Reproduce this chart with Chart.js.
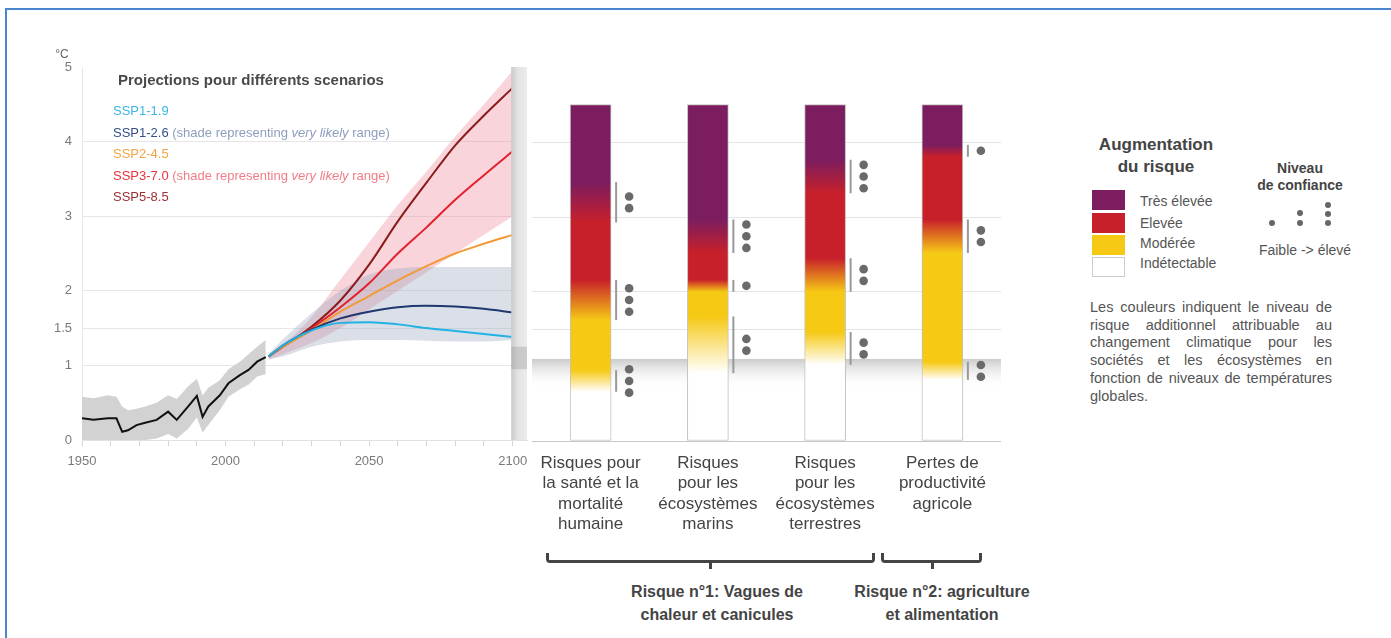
<!DOCTYPE html>
<html>
<head>
<meta charset="utf-8">
<script src="https://cdn.jsdelivr.net/npm/chart.js@4.4.1/dist/chart.umd.min.js"></script>
<style>
body { margin: 0; background: #fff; }
#page { position: relative; width: 1391px; height: 638px; overflow: hidden; font-family: "Liberation Sans", Arial, sans-serif; }
#frame { position: absolute; left: 5px; top: 8px; width: 1400px; height: 700px; border-top: 2px solid #4a86cf; border-left: 2px solid #4a86cf; }
canvas { position: absolute; }
.t { position: absolute; white-space: nowrap; }
.cx { transform: translateX(-50%); text-align: center; }
.legend { font-family: "Liberation Sans", Arial, sans-serif; font-size: 13px; line-height: 21.5px; }
.sw { position: absolute; left: 1092px; width: 33px; height: 20px; }
.dot { position: absolute; width: 6px; height: 6px; border-radius: 50%; background: #666; }
.para div { text-align: justify; text-align-last: justify; }
.brace { position: absolute; box-sizing: border-box; height: 10px; top: 553px; border: 3px solid #444; border-top: none; border-radius: 0 0 4px 4px; }
.tick { position: absolute; width: 3px; height: 7px; top: 562px; background: #444; }
</style>
</head>
<body>
<div id="page">
  <div id="frame"></div>
  <canvas id="left" width="540" height="480" style="left:0;top:0;width:540px;height:480px"></canvas>
  <canvas id="right" width="500" height="540" style="left:520px;top:0;width:500px;height:540px"></canvas>

  <div class="t cx" style="left:62px;top:47px;font-size:12px;color:#666">°C</div>
  <div class="t" style="left:118px;top:71px;font-size:15px;font-weight:bold;color:#4a4a4a;line-height:18px">Projections pour différents scenarios</div>
  <div class="t legend" style="left:113px;top:100px">
    <div style="color:#3db5e6">SSP1-1.9</div>
    <div style="color:#34508c">SSP1-2.6 <span style="color:#8e9dbd">(shade representing <i>very likely</i> range)</span></div>
    <div style="color:#f3a443">SSP2-4.5</div>
    <div style="color:#e8343f">SSP3-7.0 <span style="color:#ef7d88">(shade representing <i>very likely</i> range)</span></div>
    <div style="color:#9b3035">SSP5-8.5</div>
  </div>

  <div class="t cx" style="left:1156px;top:134px;font-size:17px;font-weight:bold;color:#444;line-height:21.7px">Augmentation<br>du risque</div>
  <div class="sw" style="top:190px;background:#7b1d5f"></div>
  <div class="sw" style="top:213px;background:#c8202a"></div>
  <div class="sw" style="top:235px;background:#f6c915"></div>
  <div class="sw" style="top:257px;background:#fff;border:1px solid #ccc;box-sizing:border-box"></div>
  <div class="t" style="left:1140px;top:193px;font-size:14px;color:#555;line-height:16px">Très élevée</div>
  <div class="t" style="left:1140px;top:215px;font-size:14px;color:#555;line-height:16px">Elevée</div>
  <div class="t" style="left:1140px;top:235px;font-size:14px;color:#555;line-height:16px">Modérée</div>
  <div class="t" style="left:1140px;top:255px;font-size:14px;color:#555;line-height:16px">Indétectable</div>

  <div class="t cx" style="left:1300px;top:160px;font-size:14px;font-weight:bold;color:#444;line-height:16.7px">Niveau<br>de confiance</div>
  <div class="dot" style="left:1269px;top:220px"></div>
  <div class="dot" style="left:1297px;top:210px"></div>
  <div class="dot" style="left:1297px;top:220px"></div>
  <div class="dot" style="left:1325px;top:202px"></div>
  <div class="dot" style="left:1325px;top:211px"></div>
  <div class="dot" style="left:1325px;top:220px"></div>
  <div class="t cx" style="left:1305px;top:242px;font-size:14px;color:#555;line-height:16px">Faible -&gt; élevé</div>

  <div class="t para" style="left:1090px;top:299px;width:242px;font-size:14.5px;color:#555;line-height:17.7px;white-space:normal">
    <div>Les couleurs indiquent le niveau de</div>
    <div>risque additionnel attribuable au</div>
    <div>changement climatique pour les</div>
    <div>sociétés et les écosystèmes en</div>
    <div>fonction de niveaux de températures</div>
    <div style="text-align-last:left">globales.</div>
  </div>

  <div class="brace" style="left:546px;width:329px"></div>
  <div class="tick" style="left:709px"></div>
  <div class="brace" style="left:881px;width:101px"></div>
  <div class="tick" style="left:931px"></div>
  <div class="t cx" style="left:717px;top:580px;font-size:16px;font-weight:bold;color:#444;line-height:23.3px">Risque n°1: Vagues de<br>chaleur et canicules</div>
  <div class="t cx" style="left:942px;top:580px;font-size:16px;font-weight:bold;color:#444;line-height:23.3px">Risque n°2: agriculture<br>et alimentation</div>
</div>

<script>
// observed warming (°C vs 1850-1900) and its range
var histYears = [1950, 1954, 1959, 1962, 1964, 1966, 1969, 1972, 1976, 1980, 1983, 1987, 1990, 1992, 1994, 1998, 2001, 2005, 2008, 2011, 2014];
var histMean = [0.29, 0.27, 0.29, 0.29, 0.11, 0.13, 0.20, 0.23, 0.27, 0.38, 0.27, 0.45, 0.59, 0.31, 0.45, 0.60, 0.76, 0.87, 0.94, 1.05, 1.11];
var histHigh = [0.58, 0.56, 0.60, 0.58, 0.45, 0.40, 0.42, 0.45, 0.50, 0.60, 0.55, 0.72, 0.82, 0.60, 0.70, 0.80, 0.95, 1.05, 1.15, 1.25, 1.34];
var histLow = [0.00, 0.00, 0.00, 0.00, 0.00, 0.00, 0.00, 0.00, 0.02, 0.08, 0.02, 0.15, 0.30, 0.10, 0.20, 0.40, 0.58, 0.68, 0.74, 0.85, 0.88];

// scenario projections
var projYears = [2015, 2020, 2030, 2040, 2050, 2060, 2070, 2080, 2090, 2100];
var ssp119 = [1.12, 1.27, 1.47, 1.57, 1.58, 1.55, 1.50, 1.46, 1.42, 1.38];
var ssp126 = [1.12, 1.27, 1.48, 1.63, 1.72, 1.78, 1.80, 1.79, 1.76, 1.71];
var ssp245 = [1.12, 1.25, 1.47, 1.72, 1.93, 2.14, 2.33, 2.50, 2.63, 2.75];
var ssp370 = [1.12, 1.25, 1.50, 1.78, 2.10, 2.50, 2.85, 3.22, 3.55, 3.87];
var ssp585 = [1.12, 1.25, 1.52, 1.87, 2.35, 2.93, 3.45, 3.95, 4.35, 4.72];
var ssp126High = [1.15, 1.35, 1.70, 2.00, 2.22, 2.30, 2.32, 2.32, 2.32, 2.32];
var ssp126Low = [1.08, 1.12, 1.25, 1.32, 1.34, 1.34, 1.33, 1.32, 1.32, 1.34];
var ssp370High = [1.15, 1.28, 1.65, 2.15, 2.65, 3.15, 3.60, 4.07, 4.50, 4.95];
var ssp370Low = [1.08, 1.15, 1.30, 1.50, 1.75, 2.00, 2.25, 2.50, 2.75, 3.00];

var xTicks = [1950, 1960, 1970, 1980, 1990, 2000, 2010, 2020, 2030, 2040, 2050, 2060, 2070, 2080, 2090, 2100];
var yTicks = [0, 1, 1.5, 2, 3, 4, 5];

// risk bars: transitions [start, end] in °C, and confidence (number of dots)
var categories = [
    ['Risques pour', 'la santé et la', 'mortalité', 'humaine'],
    ['Risques', 'pour les', 'écosystèmes', 'marins'],
    ['Risques', 'pour les', 'écosystèmes', 'terrestres'],
    ['Pertes de', 'productivité', 'agricole']
];
var barTop = [4.51, 4.51, 4.51, 4.51];
var toModerate = [[0.66, 0.95], [0.91, 1.67], [1.02, 1.46], [0.82, 1.06]];
var toHigh = [[1.62, 2.16], [2.00, 2.16], [2.00, 2.45], [2.52, 2.97]];
var toVeryHigh = [[2.93, 3.47], [2.52, 2.97], [3.32, 3.77], [3.81, 3.97]];
var confModerate = [3, 2, 2, 2];
var confHigh = [3, 1, 2, 2];
var confVeryHigh = [2, 3, 3, 1];
var currentWarming = [0.7, 1.1];

var PURPLE = '#7b1d5f', RED = '#c8202a', YELLOW = '#f6c915', WHITE = '#ffffff';
var FONT = '"Liberation Sans", Arial, sans-serif';

function pts(xs, ys) {
    return xs.map(function(x, i) { return {x: x, y: ys[i]}; });
}

function shade(xs, ys, color, fill, order, smooth) {
    return {data: pts(xs, ys), borderColor: 'transparent', borderWidth: 0, backgroundColor: color, fill: fill, order: order,
        cubicInterpolationMode: smooth ? 'monotone' : 'default'};
}

function line(label, ys, color) {
    return {label: label, data: pts(projYears, ys), borderColor: color, borderWidth: 2, fill: false, order: 0, cubicInterpolationMode: 'monotone'};
}

var endBand = {
    id: 'endBand',
    afterDatasetsDraw: function(chart) {
        var c = chart.ctx, a = chart.chartArea, x = chart.scales.x, y = chart.scales.y;
        var x0 = x.getPixelForValue(2099.5);
        var g = c.createLinearGradient(x0, 0, a.right, 0);
        g.addColorStop(0, '#c9c9c9');
        g.addColorStop(0.4, '#e2e2e2');
        g.addColorStop(1, '#ececec');
        c.save();
        c.fillStyle = g;
        c.fillRect(x0, a.top, a.right - x0, a.bottom - a.top);
        c.fillStyle = 'rgba(150,150,150,0.35)';
        var y1 = y.getPixelForValue(currentWarming[1] + 0.15), y0 = y.getPixelForValue(currentWarming[1] - 0.15);
        c.fillRect(x0, y1, a.right - x0, y0 - y1);
        c.restore();
    }
};

new Chart(document.getElementById('left').getContext('2d'), {
    type: 'line',
    data: {
        datasets: [
            shade(projYears, ssp126High, 'rgba(150,163,190,0.35)', '+1', 2, true),
            shade(projYears, ssp126Low, 'transparent', false, 2, true),
            shade(projYears, ssp370High, 'rgba(236,120,140,0.32)', '+1', 3, true),
            shade(projYears, ssp370Low, 'transparent', false, 3, true),
            shade(histYears, histHigh, '#d2d2d2', '+1', 3, false),
            shade(histYears, histLow, 'transparent', false, 3, false),
            {label: 'Observé', data: pts(histYears, histMean), borderColor: '#111', borderWidth: 2, fill: false, order: 0},
            line('SSP1-1.9', ssp119, '#22b2e3'),
            line('SSP1-2.6', ssp126, '#20386f'),
            line('SSP2-4.5', ssp245, '#f29a38'),
            line('SSP3-7.0', ssp370, '#e3202b'),
            line('SSP5-8.5', ssp585, '#8b1a1a')
        ]
    },
    options: {
        responsive: false,
        animation: false,
        layout: {padding: {top: 67, right: 13, left: 0, bottom: 0}},
        elements: {point: {radius: 0}, line: {tension: 0}},
        plugins: {legend: {display: false}, tooltip: {enabled: false}},
        scales: {
            x: {
                type: 'linear', min: 1950, max: 2105,
                afterBuildTicks: function(scale) { scale.ticks = xTicks.map(function(v) { return {value: v}; }); },
                afterFit: function(scale) { scale.height = 40; },
                grid: {drawOnChartArea: false, color: '#d6d6d6', tickLength: 6},
                border: {color: '#e2e2e2'},
                ticks: {
                    autoSkip: false, maxRotation: 0, padding: 8, color: '#7a7a7a',
                    font: {family: FONT, size: 13},
                    callback: function(v) { return v % 50 === 0 ? String(v) : ''; }
                }
            },
            y: {
                min: 0, max: 5,
                afterBuildTicks: function(scale) { scale.ticks = yTicks.map(function(v) { return {value: v}; }); },
                afterFit: function(scale) { scale.width = 82; },
                grid: {
                    drawTicks: false,
                    color: function(c) { return (c.tick.value > 0 && c.tick.value < 5) ? '#e6e6e6' : 'rgba(0,0,0,0)'; }
                },
                border: {color: '#e6e6e6'},
                ticks: {padding: 10, color: '#7a7a7a', font: {family: FONT, size: 13}, callback: function(v) { return String(v); }}
            }
        }
    },
    plugins: [endBand]
});

var warmingBand = {
    id: 'warmingBand',
    beforeDatasetsDraw: function(chart) {
        var c = chart.ctx, a = chart.chartArea, y = chart.scales.y;
        var top = y.getPixelForValue(currentWarming[1]), bottom = y.getPixelForValue(currentWarming[0]);
        var g = c.createLinearGradient(0, top, 0, bottom);
        g.addColorStop(0, '#cbcbcb');
        g.addColorStop(1, 'rgba(255,255,255,0)');
        c.save();
        c.fillStyle = g;
        c.fillRect(a.left, top, a.right - a.left, bottom - top);
        c.restore();
    }
};

var confidence = {
    id: 'confidence',
    afterDatasetsDraw: function(chart) {
        var c = chart.ctx, y = chart.scales.y;
        var bars = chart.getDatasetMeta(0).data;
        c.save();
        bars.forEach(function(bar, i) {
            var right = bar.x + bar.width / 2;
            [[toModerate[i], confModerate[i]], [toHigh[i], confHigh[i]], [toVeryHigh[i], confVeryHigh[i]]].forEach(function(m) {
                var y0 = y.getPixelForValue(m[0][0]), y1 = y.getPixelForValue(m[0][1]);
                c.strokeStyle = '#999';
                c.lineWidth = 2;
                c.beginPath();
                c.moveTo(right + 5, y0);
                c.lineTo(right + 5, y1);
                c.stroke();
                var mid = (y0 + y1) / 2;
                c.fillStyle = '#6a6a6a';
                for (var k = 0; k < m[1]; k++) {
                    c.beginPath();
                    c.arc(right + 18, mid + (k - (m[1] - 1) / 2) * 11.7, 4.3, 0, Math.PI * 2);
                    c.fill();
                }
            });
        });
        c.restore();
    }
};

new Chart(document.getElementById('right').getContext('2d'), {
    type: 'bar',
    data: {
        labels: categories,
        datasets: [{
            label: 'Risque',
            data: barTop.map(function(t) { return [0, t]; }),
            barThickness: 41,
            borderColor: '#c2c2c2',
            borderWidth: 1,
            borderSkipped: false,
            backgroundColor: function(ctx) {
                var chart = ctx.chart;
                if (!chart.chartArea || ctx.dataIndex === undefined) return WHITE;
                var i = ctx.dataIndex, top = barTop[i], y = chart.scales.y;
                var g = chart.ctx.createLinearGradient(0, y.getPixelForValue(0), 0, y.getPixelForValue(top));
                function stop(v, col) { g.addColorStop(Math.min(1, Math.max(0, v / top)), col); }
                stop(0, WHITE);
                stop(toModerate[i][0], WHITE);
                stop(toModerate[i][1], YELLOW);
                stop(toHigh[i][0], YELLOW);
                stop(toHigh[i][1], RED);
                stop(toVeryHigh[i][0], RED);
                stop(toVeryHigh[i][1], PURPLE);
                stop(top, PURPLE);
                return g;
            }
        }]
    },
    options: {
        responsive: false,
        animation: false,
        layout: {padding: {top: 68, right: 19, left: 12, bottom: 0}},
        plugins: {legend: {display: false}, tooltip: {enabled: false}},
        scales: {
            x: {
                afterFit: function(scale) { scale.height = 99; },
                grid: {display: false},
                border: {display: false},
                ticks: {autoSkip: false, maxRotation: 0, padding: 4, color: '#444', font: {family: FONT, size: 17, lineHeight: 1.2}}
            },
            y: {
                min: 0, max: 5,
                afterBuildTicks: function(scale) { scale.ticks = yTicks.map(function(v) { return {value: v}; }); },
                afterFit: function(scale) { scale.width = 0; },
                grid: {
                    drawTicks: false,
                    color: function(c) {
                        var v = c.tick.value;
                        if (v === 0) return '#c8c8c8';
                        if (v === 1 || v === 5) return 'rgba(0,0,0,0)';
                        return '#e4e4e4';
                    }
                },
                border: {display: false},
                ticks: {display: false}
            }
        }
    },
    plugins: [warmingBand, confidence]
});
</script>
</body>
</html>
